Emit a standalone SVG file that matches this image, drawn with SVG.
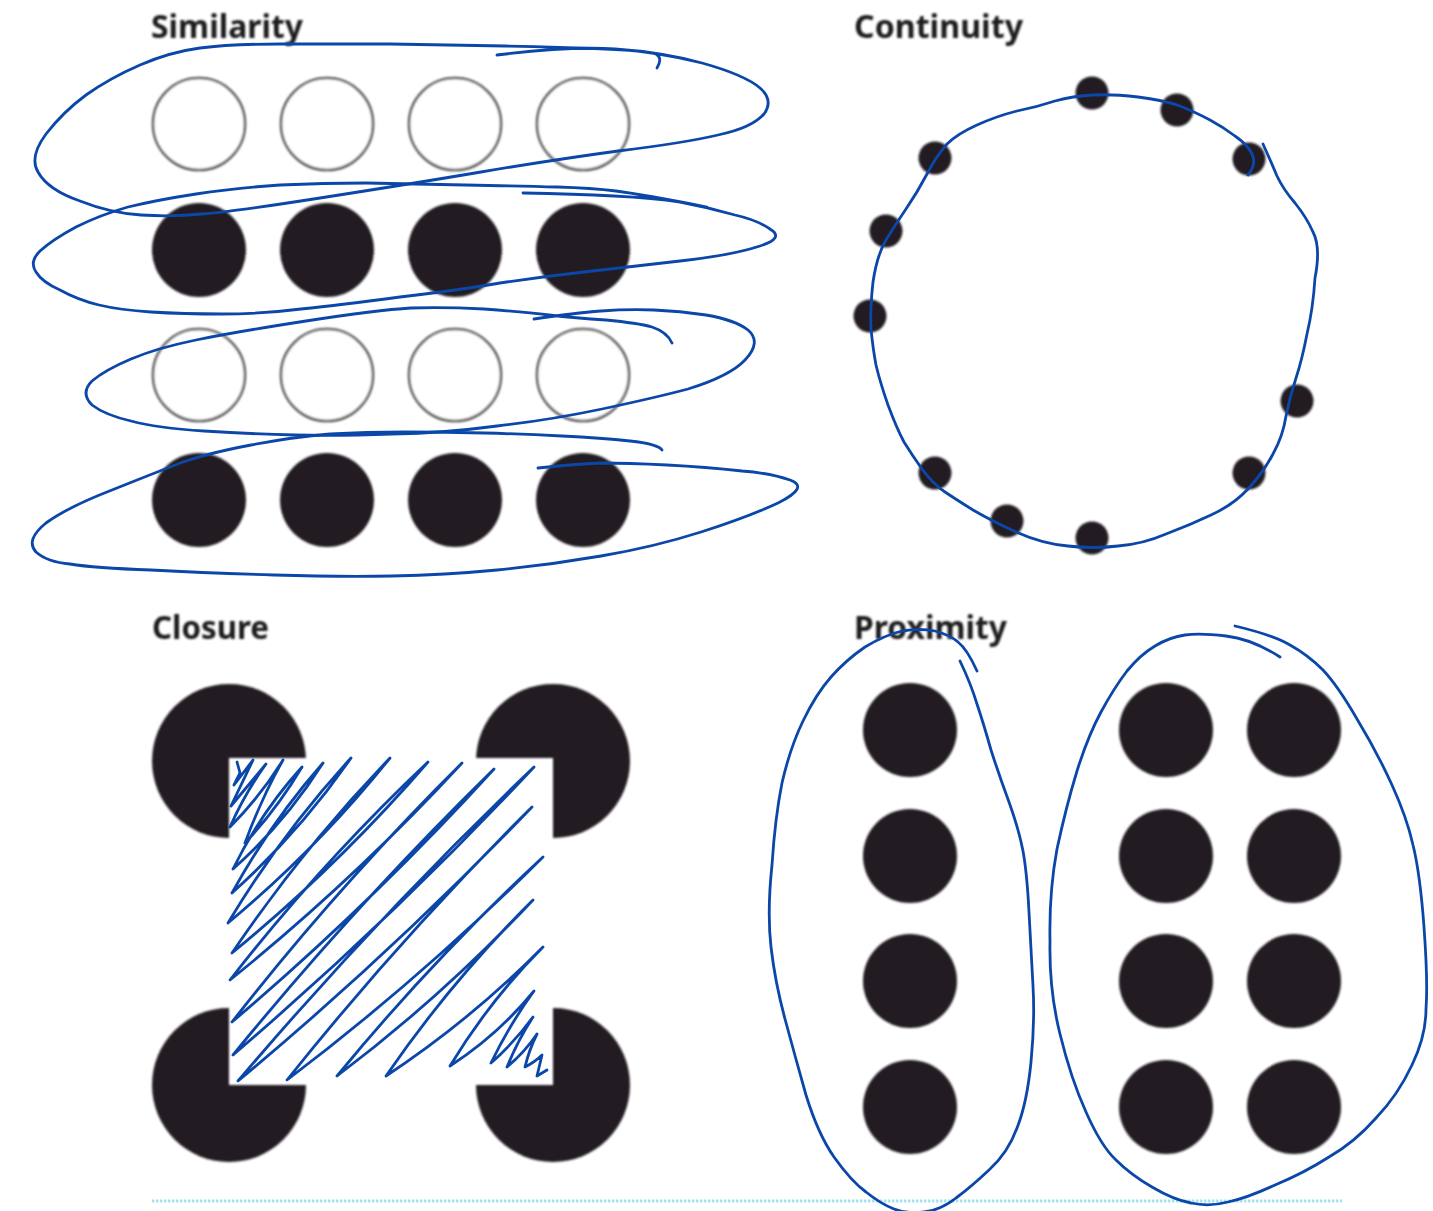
<svg xmlns="http://www.w3.org/2000/svg" width="1433" height="1211" viewBox="0 0 1433 1211">
<style>
.t{font-family:"Noto Sans","Liberation Sans",sans-serif;font-weight:700;font-size:33px;fill:#1c1b1c;filter:url(#b)}
.f{fill:#231f20;filter:url(#b)}
.o{fill:#fff;stroke:#5a5a5a;stroke-width:2.6;filter:url(#b)}
.p{fill:none;stroke:#0a47a9;stroke-width:2.8;stroke-linecap:round;stroke-linejoin:round}
</style>
<defs>
<filter id="b" x="-10%" y="-10%" width="120%" height="120%"><feGaussianBlur stdDeviation="0.8"/></filter>
</defs>
<rect width="1433" height="1211" fill="#fff"/>
<g id="similarity">
<text class="t" x="151" y="38" textLength="152" lengthAdjust="spacingAndGlyphs">Similarity</text>
<circle class="o" cx="199" cy="124" r="46"/><circle class="o" cx="327" cy="124" r="46"/><circle class="o" cx="455" cy="124" r="46"/><circle class="o" cx="583" cy="124" r="46"/>
<circle class="f" cx="199" cy="250" r="47"/><circle class="f" cx="327" cy="250" r="47"/><circle class="f" cx="455" cy="250" r="47"/><circle class="f" cx="583" cy="250" r="47"/>
<circle class="o" cx="199" cy="375" r="46"/><circle class="o" cx="327" cy="375" r="46"/><circle class="o" cx="455" cy="375" r="46"/><circle class="o" cx="583" cy="375" r="46"/>
<circle class="f" cx="199" cy="500" r="47"/><circle class="f" cx="327" cy="500" r="47"/><circle class="f" cx="455" cy="500" r="47"/><circle class="f" cx="583" cy="500" r="47"/>
</g>
<g id="continuity">
<text class="t" x="854" y="38" textLength="169" lengthAdjust="spacingAndGlyphs">Continuity</text>
<circle class="f" cx="1092" cy="93" r="16.5"/><circle class="f" cx="1177" cy="110" r="16.5"/><circle class="f" cx="1249" cy="159" r="16.5"/><circle class="f" cx="935" cy="158" r="16.5"/><circle class="f" cx="886" cy="231" r="16.5"/><circle class="f" cx="870" cy="316" r="16.5"/><circle class="f" cx="1297" cy="401" r="16.5"/><circle class="f" cx="1249" cy="473" r="16.5"/><circle class="f" cx="935" cy="473" r="16.5"/><circle class="f" cx="1007" cy="521" r="16.5"/><circle class="f" cx="1092" cy="538" r="16.5"/>
</g>
<g id="closure">
<text class="t" x="152" y="639" textLength="117" lengthAdjust="spacingAndGlyphs">Closure</text>
<circle class="f" cx="229" cy="761" r="77"/><circle class="f" cx="553" cy="761" r="77"/><circle class="f" cx="229" cy="1085" r="77"/><circle class="f" cx="553" cy="1085" r="77"/>
<rect x="229" y="758" width="324" height="327" fill="#fff" filter="url(#b)"/>
</g>
<g id="proximity">
<text class="t" x="854" y="639" textLength="153" lengthAdjust="spacingAndGlyphs">Proximity</text>
<circle class="f" cx="910" cy="730" r="47"/><circle class="f" cx="910" cy="856" r="47"/><circle class="f" cx="910" cy="981" r="47"/><circle class="f" cx="910" cy="1107" r="47"/>
<circle class="f" cx="1166" cy="730" r="47"/><circle class="f" cx="1166" cy="856" r="47"/><circle class="f" cx="1166" cy="981" r="47"/><circle class="f" cx="1166" cy="1107" r="47"/>
<circle class="f" cx="1294" cy="730" r="47"/><circle class="f" cx="1294" cy="856" r="47"/><circle class="f" cx="1294" cy="981" r="47"/><circle class="f" cx="1294" cy="1107" r="47"/>
</g>
<line id="rule" x1="152" y1="1201" x2="1342" y2="1201" stroke="#a5e3f0" stroke-width="3" stroke-dasharray="2.5 1.5"/>
<g id="connectors">
<path class="p" d="M657,68 Q663,58 656,54 Q650,51 605,49 Q560,47 505,46 Q450,45 390,44 Q330,44 280,44 Q230,44 200,48 Q170,52 140,65 Q110,78 86,95 Q63,112 46,134 Q29,157 38,172 Q48,190 80,201 Q110,213 141,215 Q173,217 202,214 Q231,212 320,198 Q410,184 481,172 Q552,160 618,151 Q684,143 718,135 Q752,128 764,114 Q774,100 760,88 Q745,75 702,63 Q660,52 615,49 Q570,46 497,55"/>
<path class="p" d="M707,207 Q640,194 616,191 Q592,188 557,187 Q523,186 465,185 Q408,184 366,183 Q324,183 280,185 Q235,188 196,194 Q157,200 128,207 Q100,215 76,227 Q52,240 40,251 Q29,262 36,272 Q42,282 60,290 Q78,300 99,305 Q120,310 151,312 Q183,314 222,314 Q262,314 301,309 Q340,305 400,297 Q460,290 500,283 Q540,277 584,272 Q628,267 680,261 Q733,255 760,246 Q785,238 770,229 Q757,220 735,215 Q707,207 680,202 Q654,198 614,196 Q575,194 523,193"/>
<path class="p" d="M672,343 Q667,332 652,327 Q638,323 606,320 Q575,318 549,315 Q523,312 484,309 Q445,307 411,308 Q377,310 306,321 Q235,332 196,340 Q157,348 131,359 Q105,370 92,381 Q80,393 92,405 Q105,415 131,421 Q157,428 204,431 Q251,434 295,435 Q340,436 392,434 Q445,433 497,426 Q550,420 602,409 Q654,398 688,389 Q730,376 745,360 Q762,342 748,330 Q735,320 706,315 Q680,311 654,310 Q628,309 601,311 Q575,313 534,319"/>
<path class="p" d="M662,450 Q658,444 630,441 Q602,438 562,436 Q523,434 484,433 Q445,432 405,432 Q366,432 330,434 Q293,437 251,445 Q209,453 183,462 Q157,472 112,490 Q68,507 46,523 Q25,540 36,552 Q47,562 70,564 Q94,568 151,570 Q209,573 274,575 Q340,577 392,576 Q445,575 497,570 Q549,565 601,556 Q654,547 701,532 Q748,517 778,503 Q810,487 790,480 Q770,473 742,471 Q706,467 667,465 Q628,463 601,463 Q575,464 538,468"/>
<path class="p" d="M1248,175 Q1257,164 1252,154 Q1248,145 1235,136 Q1223,127 1210,120 Q1197,113 1180,106 Q1163,100 1138,97 Q1113,94 1093,95 Q1073,96 1055,101 Q1037,107 1017,111 Q997,116 977,125 Q957,134 947,144 Q937,155 927,174 Q917,193 906,209 Q895,225 886,240 Q877,255 873,282 Q870,309 871,329 Q873,349 876,365 Q880,382 888,405 Q897,429 904,442 Q912,455 922,469 Q933,484 945,492 Q957,500 973,510 Q990,520 1016,532 Q1043,544 1068,546 Q1093,549 1118,546 Q1143,544 1166,534 Q1190,525 1211,515 Q1233,505 1248,489 Q1263,473 1273,454 Q1283,436 1286,416 Q1290,396 1296,378 Q1302,360 1307,334 Q1313,309 1315,278 Q1321,247 1313,232 Q1307,218 1295,203 Q1283,189 1277,176 Q1272,164 1263,144"/>
<path class="p" d="M237,762 L240,773 L234,785 L253,760 L231,806 L266,764 Q245,793 230,827 Q260,797 283,760 Q261,799 245,843 Q277,809 302,767 Q261,812 233,869 Q285,823 323,763 Q271,822 232,893 Q299,833 351,758 Q282,833 228,923 Q317,849 390,758 Q303,848 232,953 Q338,866 428,762 Q321,863 230,980 Q354,880 462,763 Q339,885 232,1022 Q371,904 494,769 Q356,904 233,1055 Q392,919 534,767 Q378,916 238,1081 Q393,952 532,807 Q402,936 287,1080 Q423,977 543,857 Q433,959 337,1076 Q443,996 533,900 Q452,980 386,1076 Q472,1019 543,947 Q490,1000 450,1066 Q498,1035 534,991 Q510,1024 491,1063 Q513,1044 533,1017 Q518,1040 507,1067 Q524,1053 537,1034 Q529,1050 525,1067 Q535,1062 542,1055 L537,1076 L547,1070"/>
<path class="p" d="M977,671 Q967,649 958,642 Q950,635 935,631 Q920,628 902,631 Q885,635 865,647 Q846,660 831,677 Q816,694 803,721 Q790,748 782,783 Q775,818 772,865 Q767,912 771,947 Q775,982 785,1019 Q795,1056 806,1095 Q818,1134 834,1157 Q851,1181 866,1192 Q881,1204 894,1209 Q907,1214 924,1212 Q941,1210 956,1198 Q971,1187 989,1170 Q1008,1153 1017,1128 Q1027,1103 1031,1062 Q1035,1021 1033,986 Q1031,951 1029,912 Q1027,873 1023,851 Q1019,830 1009,802 Q999,775 991,750 Q984,725 977,704 Q971,684 960,661"/>
<path class="p" d="M1280,657 Q1252,639 1226,636 Q1200,633 1185,635 Q1170,637 1155,646 Q1140,655 1127,671 Q1114,688 1101,712 Q1088,736 1077,771 Q1066,807 1057,849 Q1049,892 1050,941 Q1049,990 1060,1034 Q1071,1079 1086,1112 Q1101,1146 1116,1160 Q1131,1175 1152,1187 Q1174,1200 1191,1203 Q1209,1207 1228,1202 Q1247,1198 1275,1185 Q1304,1173 1329,1157 Q1355,1142 1376,1118 Q1398,1095 1412,1065 Q1426,1036 1426,1009 Q1428,982 1424,927 Q1420,873 1413,845 Q1407,818 1392,785 Q1377,752 1357,719 Q1338,686 1323,670 Q1308,655 1290,645 Q1273,635 1235,626"/>
</g>
</svg>
